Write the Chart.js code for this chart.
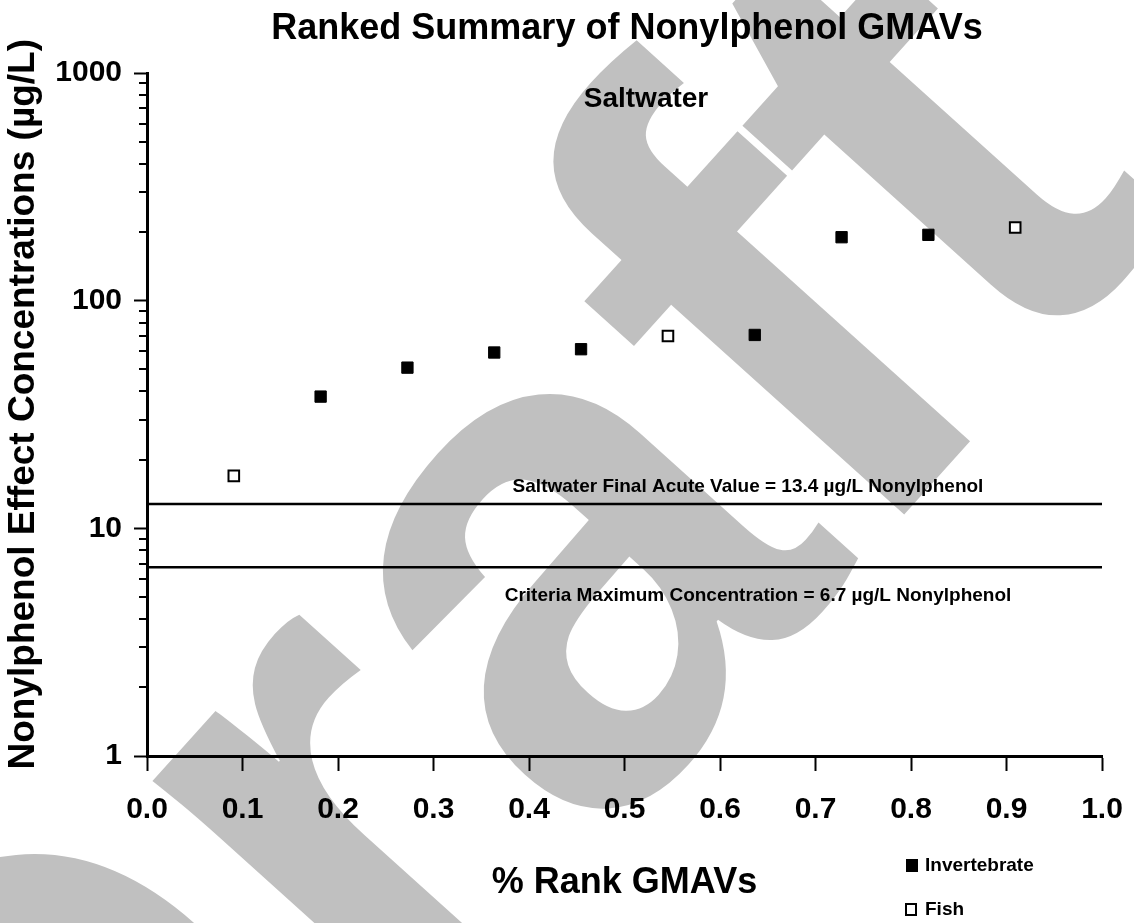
<!DOCTYPE html>
<html>
<head>
<meta charset="utf-8">
<script src="https://cdn.jsdelivr.net/npm/chart.js@4.4.1/dist/chart.umd.min.js"></script>
<style>
  html, body { margin: 0; padding: 0; background: #fff; }
</style>
</head>
<body>
<canvas id="mychart" width="1134" height="923"></canvas>
<script>
// ranked GMAVs, saltwater
var ranks = [0.0909, 0.1818, 0.2727, 0.3636, 0.4545, 0.5455, 0.6364, 0.7273, 0.8182, 0.9091];
var gmavs = [17.0, 37.9, 50.8, 59.2, 61.2, 70.0, 70.7, 190, 194.6, 209.5];
var groups = ['Fish', 'Invertebrate', 'Invertebrate', 'Invertebrate', 'Invertebrate',
              'Fish', 'Invertebrate', 'Invertebrate', 'Invertebrate', 'Fish'];

// horizontal criteria lines (drawn level) and their labels
var refLevels = [12.8, 6.75];
var refLabels = ['Saltwater Final Acute Value = 13.4 \u00b5g/L Nonylphenol',
                 'Criteria Maximum Concentration = 6.7 \u00b5g/L Nonylphenol'];

var xTicks = [0, 0.1, 0.2, 0.3, 0.4, 0.5, 0.6, 0.7, 0.8, 0.9, 1.0];
var yMajor = [1, 10, 100, 1000];
var yMinor = [2, 3, 4, 5, 6, 7, 8, 9, 20, 30, 40, 50, 60, 70, 80, 90, 200, 300, 400, 500, 600, 700, 800, 900];

var FONT = '"Liberation Sans", Arial, Helvetica, sans-serif';
Chart.defaults.font.family = FONT;
Chart.defaults.color = '#000';

function points(group) {
    var out = [];
    ranks.forEach(function (r, i) {
        if (groups[i] === group) out.push({ x: r, y: gmavs[i] });
    });
    return out;
}

var datasets = [
    {
        label: 'Invertebrate',
        data: points('Invertebrate'),
        pointStyle: 'rect',
        pointRadius: 8,
        pointBackgroundColor: '#000',
        pointBorderColor: '#000',
        pointBorderWidth: 1
    },
    {
        label: 'Fish',
        data: points('Fish'),
        pointStyle: 'rect',
        pointRadius: 7.5,
        pointBackgroundColor: '#fff',
        pointBorderColor: '#000',
        pointBorderWidth: 2
    }
];
refLevels.forEach(function (v, i) {
    datasets.push({
        label: refLabels[i],
        data: [{ x: 0, y: v }, { x: 1, y: v }],
        showLine: true,
        borderColor: '#000',
        borderWidth: 2.5,
        pointRadius: 0
    });
});

// white page + grey watermark behind everything
const backdrop = {
    id: 'backdrop',
    beforeDraw(chart) {
        const ctx = chart.ctx;
        ctx.save();
        ctx.fillStyle = '#fff';
        ctx.fillRect(0, 0, chart.width, chart.height);
        ctx.translate(470, 700);
        ctx.rotate(-48 * Math.PI / 180);
        ctx.font = 'bold 720px ' + FONT;
        ctx.fillStyle = '#c0c0c0';
        ctx.textAlign = 'center';
        ctx.textBaseline = 'middle';
        ctx.fillText('Draft', 0, 0);
        ctx.restore();
    }
};

// minor log ticks, titles, labels and legend
const extras = {
    id: 'extras',
    afterDraw(chart) {
        const ctx = chart.ctx;
        const y = chart.scales.y;
        ctx.save();
        ctx.strokeStyle = '#000';
        ctx.lineWidth = 2;
        yMinor.forEach(function (v) {
            const py = Math.round(y.getPixelForValue(v));
            ctx.beginPath();
            ctx.moveTo(y.right - 8, py);
            ctx.lineTo(y.right, py);
            ctx.stroke();
        });

        ctx.fillStyle = '#000';
        ctx.textAlign = 'center';
        ctx.textBaseline = 'middle';
        ctx.font = 'bold 36px ' + FONT;
        ctx.fillText('Ranked Summary of Nonylphenol GMAVs', 627, 29);
        ctx.font = 'bold 28px ' + FONT;
        ctx.fillText('Saltwater', 646, 99);

        ctx.font = 'bold 19px ' + FONT;
        ctx.fillText(refLabels[0], 748, 487);
        ctx.fillText(refLabels[1], 758, 596);

        // legend
        ctx.textAlign = 'left';
        ctx.font = 'bold 19px ' + FONT;
        ctx.fillRect(906, 859, 12, 13);
        ctx.fillText('Invertebrate', 925, 866);
        ctx.lineWidth = 2;
        ctx.strokeRect(906, 904, 10, 11);
        ctx.fillText('Fish', 925, 910);
        ctx.restore();
    }
};

var ctx = document.getElementById('mychart').getContext('2d');
var myChart = new Chart(ctx, {
    type: 'scatter',
    data: { datasets: datasets },
    options: {
        responsive: false,
        animation: false,
        devicePixelRatio: 1,
        layout: { padding: { top: 73, right: 32, left: 0, bottom: 0 } },
        plugins: {
            legend: { display: false },
            tooltip: { enabled: false },
            title: { display: false }
        },
        scales: {
            x: {
                type: 'linear',
                min: 0,
                max: 1,
                afterBuildTicks: function (s) {
                    s.ticks = xTicks.map(function (v) { return { value: v }; });
                },
                afterFit: function (s) {
                    s.height = 167;
                    s.paddingLeft = 0;
                    s.paddingRight = 0;
                },
                ticks: {
                    autoSkip: false,
                    maxRotation: 0,
                    padding: 21,
                    font: { size: 30, weight: 'bold' },
                    callback: function (v) { return Number(v).toFixed(1); }
                },
                grid: {
                    drawOnChartArea: false,
                    tickLength: 15,
                    tickWidth: 2,
                    tickColor: '#000'
                },
                border: { color: '#000', width: 3 },
                title: {
                    display: true,
                    text: '% Rank GMAVs',
                    font: { size: 36, weight: 'bold' },
                    padding: { top: 0, bottom: 18 }
                }
            },
            y: {
                type: 'logarithmic',
                min: 1,
                max: 1000,
                afterBuildTicks: function (s) {
                    s.ticks = yMajor.concat(yMinor).sort(function (a, b) { return a - b; })
                        .map(function (v) { return { value: v }; });
                },
                afterFit: function (s) {
                    s.width = 147;
                    s.paddingTop = 0;
                    s.paddingBottom = 0;
                },
                ticks: {
                    autoSkip: false,
                    padding: 12,
                    font: { size: 30, weight: 'bold' },
                    callback: function (v) { return yMajor.indexOf(v) >= 0 ? String(v) : ''; }
                },
                grid: {
                    drawOnChartArea: false,
                    tickLength: 13,
                    tickWidth: 2,
                    tickColor: function (c) {
                        return c.tick && yMajor.indexOf(c.tick.value) >= 0 ? '#000' : 'rgba(0,0,0,0)';
                    }
                },
                border: { color: '#000', width: 3 },
                title: {
                    display: true,
                    text: '  Nonylphenol Effect Concentrations (\u00b5g/L)',
                    font: { size: 37, weight: 'bold' },
                    padding: { top: 2, bottom: 0 }
                }
            }
        }
    },
    plugins: [backdrop, extras]
});
</script>
</body>
</html>
